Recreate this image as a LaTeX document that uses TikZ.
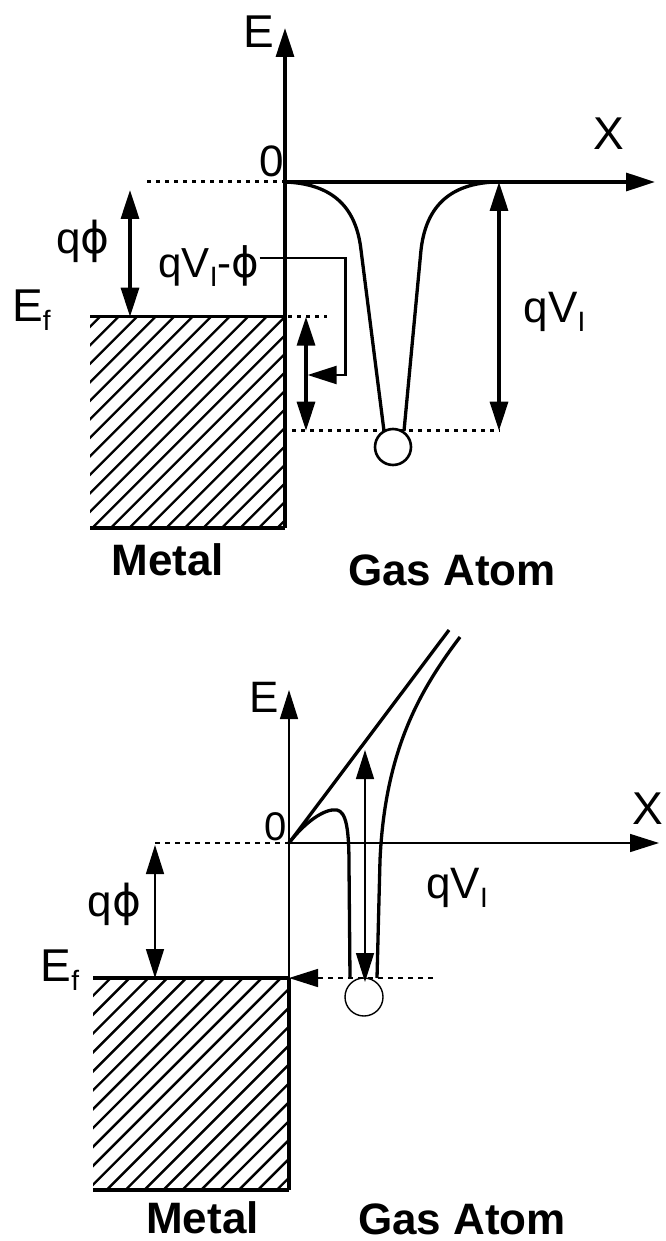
\documentclass[tikz,border=0pt]{standalone}
\usepackage{fontspec}
\setmainfont{Liberation Sans}
\newfontfamily\dvfont{DejaVu Sans}
\usetikzlibrary{arrows.meta}
\newcommand\myphi{{\dvfont ϕ}}
\newcommand\mysub[1]{\raisebox{-9pt}{\fontsize{28}{28}\selectfont #1}}
\tikzset{
  thickln/.style={line width=3.3pt},
  thinln/.style={line width=1.5pt},
  hatchln/.style={line width=2.4pt},
  dotln/.style={line width=3pt, dash pattern=on 4pt off 5pt},
  dashln/.style={line width=1.3pt, dash pattern=on 5pt off 5pt},
  lbl/.style={inner sep=0pt, font=\fontsize{44}{48}\selectfont},
  blbl/.style={inner sep=0pt, font=\fontsize{44}{48}\selectfont\bfseries},
  atom/.style={circle, draw, fill=white, inner sep=0pt}
}
\begin{document}
\begin{tikzpicture}[x=1pt, y=-1pt, >={Triangle[length=29pt,width=18pt]}]
\useasboundingbox (0,0) rectangle (665,1241);
\fill[white] (0,0) rectangle (665,1241);

%================ TOP DIAGRAM ================
\coordinate (oA) at (285,182);
\coordinate (eA) at (285,28);
\coordinate (xA) at (655,182);
\coordinate (baseA) at (285,528);
\coordinate (efA) at (285,316.7);

% hatching
\begin{scope}
  \clip (90,316.7) rectangle (285,528);
  \foreach \i in {-2,...,23} {
    \draw[hatchln] ({416.7+\i*18.5-528},528) -- ({416.7+\i*18.5-316.7},316.7);
  }
\end{scope}
\draw[thickln] (90,316.7) -- (efA);
\draw[thickln] (90,528) -- (baseA);

% axes
\draw[thickln,->] (baseA) -- (eA);
\draw[thickln,->] (oA) -- (xA);

% dotted lines
\draw[dotln] (147,182) -- (oA);
\draw[dotln] (288,316.7) -- (327,316.7);
\draw[dotln] (292,430.7) -- (500,430.7);

% well
\draw[thickln] (oA) .. controls (340,184) and (357,215) .. (361,250) -- (384,431);
\draw[thickln] (404,431) -- (421,250) .. controls (425,215) and (442,184) .. (495,182);
\node[atom, line width=2.6pt, minimum size=36pt] (atomA) at (393,447) {};

% arrows
\draw[thickln,<->] (130,190) -- (130,316.7);
\draw[thickln,<->] (306,316.7) -- (306,430.7);
\draw[thickln,<->] (499,182) -- (499,430.7);

% labels
\node[lbl, font=\fontsize{46}{48}\selectfont] (Elab) at (258.5,32) {E};
\node[lbl, font=\fontsize{46}{48}\selectfont] (Xlab) at (609,133.5) {X};
\node[lbl] (zeroA) at (272,161) {0};
\node[lbl] (qphiA) at (83,241.5) {q\myphi};
\node[lbl, font=\fontsize{46}{48}\selectfont] (EfA) at (31.5,310.5) {E\mysub{f}};
\node[lbl, font=\fontsize{42}{44}\selectfont] (qvphi) at (209,266) {qV\mysub{I}-\myphi};
\node[lbl] (qvA) at (554.5,311.5) {qV\mysub{I}};
\node[blbl] (metalA) at (168,560) {Metal};
\node[blbl] (gasA) at (452,570.5) {Gas Atom};

% connector from label
\draw[line width=2.2pt,->] (qvphi.east |- 0,258) -- (345.5,258) -- (345.5,375) -- (307.6,375);

%================ BOTTOM DIAGRAM ================
\coordinate (oB) at (289,843);
\coordinate (eB) at (289,690);
\coordinate (xB) at (659,843);
\coordinate (efB) at (289,978);
\coordinate (baseB) at (289,1190);

\begin{scope}
  \clip (93,978) rectangle (289,1190);
  \foreach \i in {-2,...,23} {
    \draw[hatchln] ({1088.7+\i*18.9-1190},1190) -- ({1088.7+\i*18.9-978},978);
  }
\end{scope}
\draw[thickln] (93,978) -- (efB);
\draw[thickln] (efB) -- (baseB);
\draw[thickln] (93,1190) -- (baseB);

\draw[thinln,->] (efB) -- (eB);
\draw[thinln,->] (oB) -- (xB);

\draw[dashln] (155,843) -- (oB);
\draw[dashln] (318,978) -- (433,978);
\draw[thinln,->] (320,978) -- (efB);

% potential curves
\draw[thickln] (oB) -- (449,630);
\draw[thickln] (oB) .. controls (305,822) and (325,808) .. (337,810) .. controls (346,812) and (349,828) .. (349,865) -- (350,978);
\draw[thickln] (460,637) .. controls (420,690) and (385,750) .. (380,860) -- (377,978);
\node[atom, line width=1.4pt, minimum size=38pt] (atomB) at (364,997) {};

\draw[thinln,<->] (155,845) -- (155,978);
\draw[thinln,<->] (365,750) -- (365,982);

\node[lbl] (EB) at (263.8,697.5) {E};
\node[lbl, font=\fontsize{46}{48}\selectfont] (XB) at (648,808.5) {X};
\node[lbl, font=\fontsize{40}{44}\selectfont] (zeroB) at (276,826.5) {0};
\node[lbl] (qphiB) at (114.5,904.5) {q\myphi};
\node[lbl, font=\fontsize{46}{48}\selectfont] (EfB) at (60,970) {E\mysub{f}};
\node[lbl] (qvB) at (457,887.5) {qV\mysub{I}};
\node[blbl] (metalB) at (202.5,1218) {Metal};
\node[blbl] (gasB) at (462,1219) {Gas Atom};
\end{tikzpicture}
\end{document}
